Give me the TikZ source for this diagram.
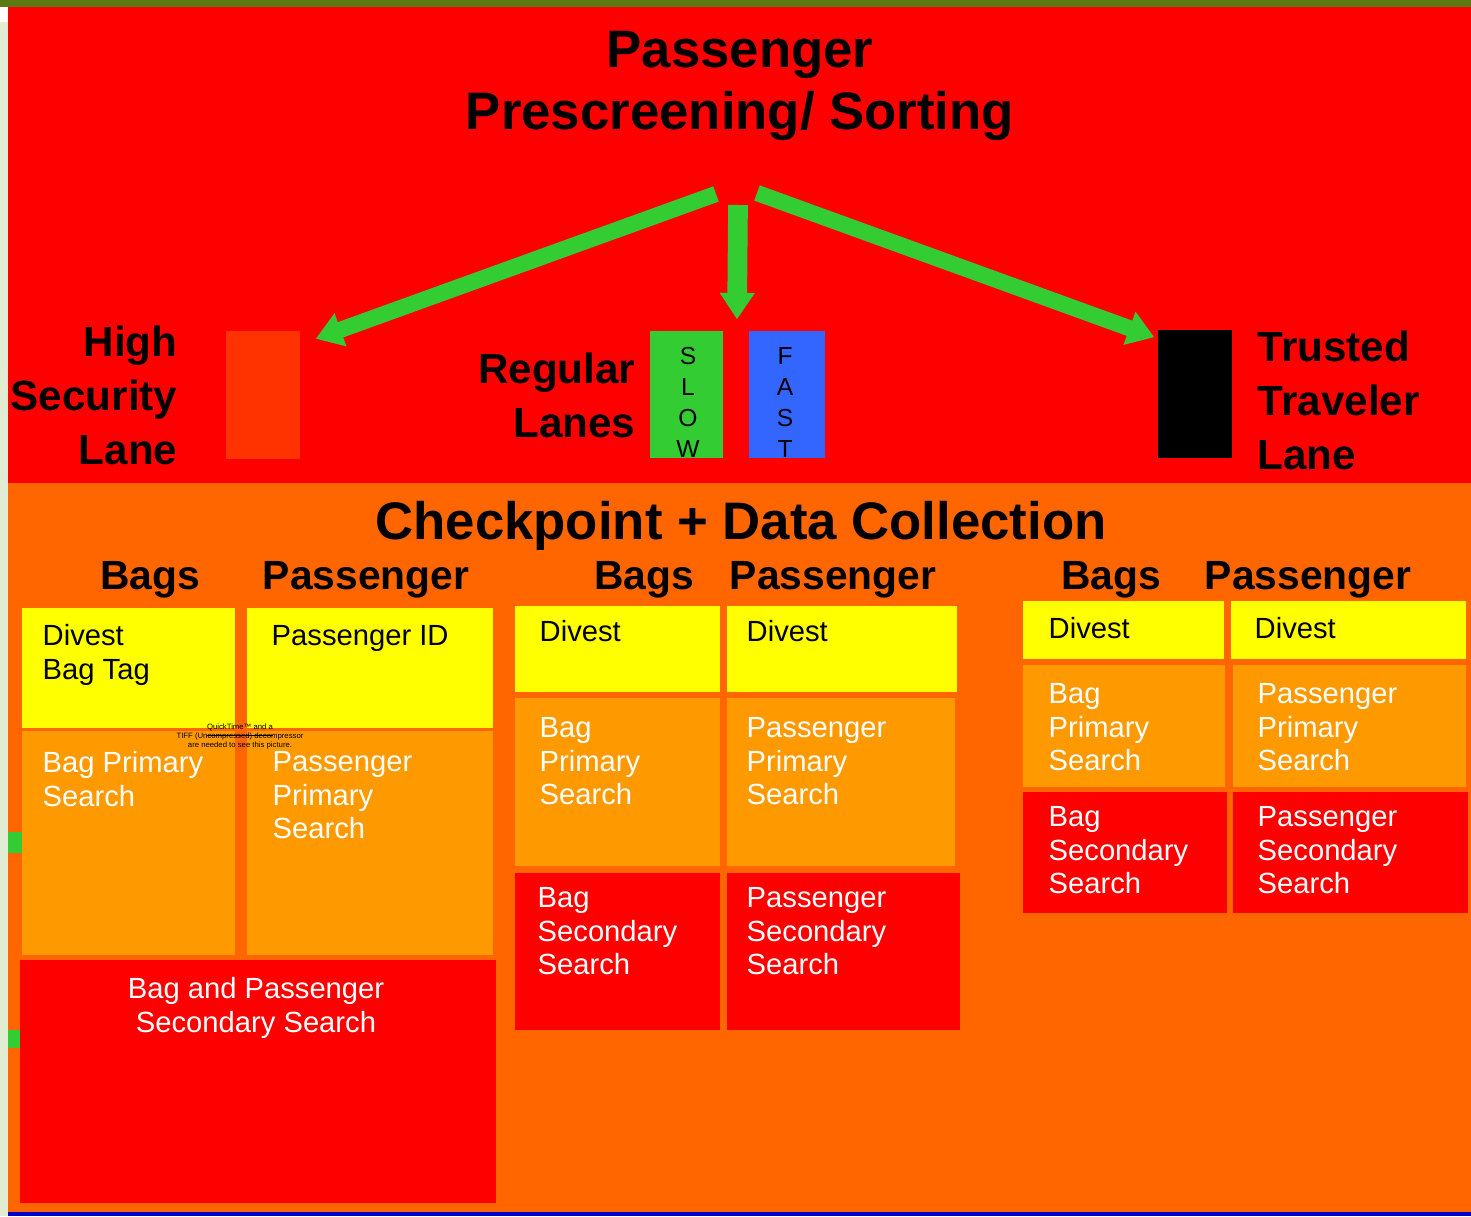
\documentclass[tikz,border=0pt]{standalone}
\usepackage{fontspec}
\setmainfont{Liberation Sans}
\usepackage{tikz}
\usetikzlibrary{arrows.meta,calc}
\definecolor{bandolive}{HTML}{5B7A12}
\definecolor{stripgreen}{HTML}{E2ECD2}
\definecolor{sortred}{HTML}{FF0000}
\definecolor{checkorange}{HTML}{FF6600}
\definecolor{divestyellow}{HTML}{FFFF00}
\definecolor{primaryorange}{HTML}{FF9900}
\definecolor{highred}{HTML}{FF3300}
\definecolor{slowgreen}{HTML}{33CC33}
\definecolor{fastblue}{HTML}{3366FF}
\definecolor{edgeblue}{HTML}{0000CC}
\tikzstyle{divest}=[fill=divestyellow, text=black]
\tikzstyle{primary}=[fill=primaryorange, text=white]
\tikzstyle{secondary}=[fill=sortred, text=white]
\tikzstyle{celltext}=[anchor=north west, inner sep=0pt, align=left, font={\fontsize{8.3}{9.5}\selectfont}]
\tikzstyle{lanebox}=[draw=none, minimum width=0.74cm, minimum height=1.27cm, inner sep=0pt]
\tikzstyle{laneletters}=[anchor=north, align=center, inner sep=0pt, font={\fontsize{7}{8.8}\selectfont}]
\tikzstyle{lanelabel}=[inner sep=0pt, font={\bfseries\fontsize{12}{15.4}\selectfont}]
\tikzstyle{colhead}=[anchor=base, inner sep=0pt, font={\bfseries\fontsize{11.6}{14}\selectfont}]
\tikzstyle{sortarrow}=[draw=slowgreen, line width=4.6pt, -{Triangle[width=9.5pt,length=7.5pt]}]
\newcommand{\cellBox}[6]{
	\fill[#1] #2 rectangle #3;
	\node[celltext, #1, fill=none] (#4) at #5 {#6};
}

\begin{document}
\begin{tikzpicture}[x=0.01cm, y=-0.01cm]
	\useasboundingbox (0,0) rectangle (1471,1216);
	\fill[stripgreen] (0,0) rectangle (8,1216);
	\fill[white] (0,7) rectangle (8,22);
	\fill[sortred] (8,7) rectangle (1471,483);
	\fill[checkorange] (8,483) rectangle (1471,1212);
	\fill[edgeblue] (8,1212) rectangle (1471,1216);
	\fill[bandolive] (0,0) rectangle (1471,7);
	\fill[slowgreen] (8,832) rectangle (22,853);
	\fill[slowgreen] (8,1030) rectangle (22,1048);

	\node[anchor=north, align=center, inner sep=0pt, font={\bfseries\fontsize{15}{17.6}\selectfont}] (title) at (740,31) {Passenger\\Prescreening/ Sorting};

	\node[lanebox, fill=highred] (high) at (263,395) {};
	\node[lanebox, fill=slowgreen, minimum width=0.73cm] (slow) at (686.5,394.5) {};
	\node[lanebox, fill=fastblue, minimum width=0.76cm] (fast) at (787,394.5) {};
	\node[lanebox, fill=black, minimum height=1.28cm] (trusted) at (1195,394) {};
	\node[laneletters] (slowtxt) at (688,347) {S\\L\\O\\W};
	\node[laneletters] (fasttxt) at (785,347) {F\\A\\S\\T};

	\node[lanelabel, anchor=north east, align=right] (highlbl) at (178,325) {High\\Security\\Lane};
	\node[lanelabel, anchor=north east, align=right] (reglbl) at (636,352) {Regular\\Lanes};
	\node[lanelabel, anchor=north west, align=left] (trustlbl) at (1257,330) {Trusted\\Traveler\\Lane};

	\coordinate (forkL) at (716,194);
	\coordinate (forkM) at (738,205);
	\coordinate (forkR) at (757,193);
	\coordinate (highin) at ($(high.north east)+(15,8)$);
	\coordinate (regin) at ($(slow.north east)!0.5!(fast.north west)+(1,-11)$);
	\coordinate (trustin) at ($(trusted.north west)+(-3,8)$);
	\draw[sortarrow] (forkL) -- (highin);
	\draw[sortarrow, line width=5.6pt] (forkM) -- (regin);
	\draw[sortarrow] (forkR) -- (trustin);

	\node[anchor=base, inner sep=0pt, font={\bfseries\fontsize{15}{18}\selectfont}] (checkpoint) at (741,539) {Checkpoint + Data Collection};

	\node[colhead] (bagsA) at (150,589) {Bags};
	\node[colhead] (paxA) at (366,589) {Passenger};
	\node[colhead] (bagsB) at (644,589) {Bags};
	\node[colhead] (paxB) at (833,589) {Passenger};
	\node[colhead] (bagsC) at (1111,589) {Bags};
	\node[colhead] (paxC) at (1308,589) {Passenger};

	\cellBox{divest}{(22,608)}{(235,728)}{divA}{(42,624)}{Divest\\Bag Tag}
	\cellBox{divest}{(247,608)}{(493,728)}{idA}{(271,625)}{Passenger ID}
	\cellBox{primary}{(22,731)}{(235,955)}{bagpriA}{(42,751)}{Bag Primary\\Search}
	\cellBox{primary}{(247,731)}{(493,955)}{paxpriA}{(272,751)}{Passenger\\Primary\\Search}
	\fill[secondary] (20,960) rectangle (496,1203);
	\node[celltext, text=white, anchor=north, align=center] (secA) at (256,977) {Bag and Passenger\\Secondary Search};
	\node[inner sep=0pt, align=center, anchor=north, font={\fontsize{2.2}{2.6}\selectfont}] (qt) at (240,723) {\raisebox{0pt}[\height][0pt]{\underline{QuickTime™ and a}}\\TIFF (Uncompressed) decompressor\\are needed to see this picture.};

	\cellBox{divest}{(515,606)}{(720,692)}{divB}{(539,620)}{Divest}
	\cellBox{divest}{(727,606)}{(957,692)}{paxdivB}{(746,620)}{Divest}
	\cellBox{primary}{(515,698)}{(720,866)}{bagpriB}{(539,717)}{Bag\\Primary\\Search}
	\cellBox{primary}{(727,698)}{(955,866)}{paxpriB}{(746,717)}{Passenger\\Primary\\Search}
	\cellBox{secondary}{(515,873)}{(720,1030)}{bagsecB}{(537,887)}{Bag\\Secondary\\Search}
	\cellBox{secondary}{(727,873)}{(960,1030)}{paxsecB}{(746,887)}{Passenger\\Secondary\\Search}

	\cellBox{divest}{(1023,601)}{(1224,659)}{divC}{(1048,617)}{Divest}
	\cellBox{divest}{(1231,601)}{(1466,659)}{paxdivC}{(1254,617)}{Divest}
	\cellBox{primary}{(1023,665)}{(1225,787)}{bagpriC}{(1048,683)}{Bag\\Primary\\Search}
	\cellBox{primary}{(1233,665)}{(1466,787)}{paxpriC}{(1257,683)}{Passenger\\Primary\\Search}
	\cellBox{secondary}{(1023,792)}{(1227,913)}{bagsecC}{(1048,806)}{Bag\\Secondary\\Search}
	\cellBox{secondary}{(1233,792)}{(1468,913)}{paxsecC}{(1257,806)}{Passenger\\Secondary\\Search}
\end{tikzpicture}
\end{document}
